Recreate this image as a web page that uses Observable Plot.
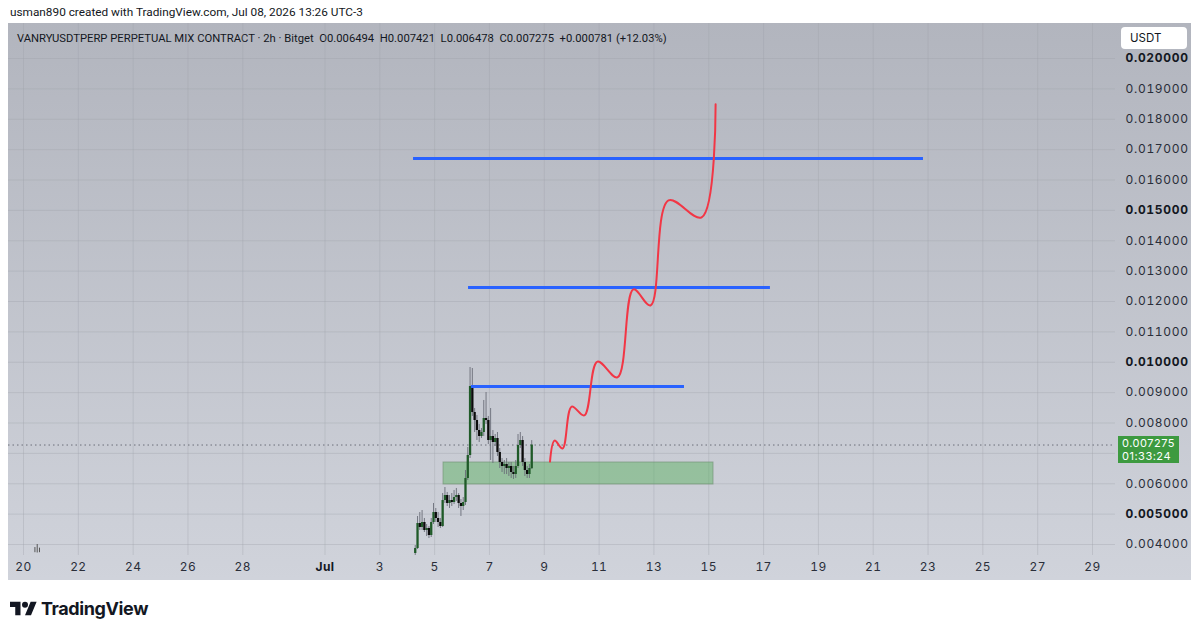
<!DOCTYPE html>
<html><head><meta charset="utf-8">
<script src="https://cdn.jsdelivr.net/npm/d3@7"></script>
<script src="https://cdn.jsdelivr.net/npm/@observablehq/plot@0.6"></script>
<style>
body{margin:0;background:#fff;width:1200px;height:633px;overflow:hidden;position:relative;font-family:Roboto,Inter,"Noto Sans",sans-serif;color:#131722;}
#top{position:absolute;left:10px;top:4px;font-size:11.8px;line-height:16px;white-space:nowrap;}
#panel{position:absolute;left:8px;top:23px;width:1183px;height:557px;background:linear-gradient(#b2b5be,#d0d3db);}
#legend{position:absolute;left:9px;top:8px;font-size:11.25px;line-height:16px;white-space:nowrap;color:#131722;}
#usdt{position:absolute;left:1113px;top:4px;width:66px;height:22px;background:#fff;border-radius:4px;font-size:11.5px;line-height:22px;box-sizing:border-box;padding-left:9px;color:#131722;font-family:Inter,sans-serif;}
#last{position:absolute;left:1110px;width:61px;height:27px;background:#3d9a40;color:#fff;font-size:11px;line-height:12.5px;box-sizing:border-box;padding:1px 0 0 4px;font-family:Inter,sans-serif;letter-spacing:0.5px;}
#logo{position:absolute;left:10px;top:598px;display:flex;align-items:center;gap:4px;}
#logo span{font-size:18px;font-weight:700;letter-spacing:-0.4px;color:#131722;font-family:Inter,sans-serif;}
g[aria-label="y-axis tick label"] text{letter-spacing:0.7px;}
g[aria-label="x-axis tick label"] text{letter-spacing:0.4px;}
</style></head>
<body>
<div id="top">usman890 created with TradingView.com, Jul 08, 2026 13:26 UTC-3</div>
<div id="panel">
  <div id="legend">VANRYUSDTPERP PERPETUAL MIX CONTRACT · 2h · Bitget&nbsp; O0.006494&nbsp; H0.007421&nbsp; L0.006478&nbsp; C0.007275&nbsp; +0.000781 (+12.03%)</div>
  <div id="usdt">USDT</div>
</div>
<div id="logo"><svg width="27" height="17" viewBox="0 3 36 20"><path fill="#131722" d="M14 22H7V11H0V4h14v18zM28 22h-8l7.5-18h8L28 22z"/><circle fill="#131722" cx="20" cy="8" r="4"/></svg><span>TradingView</span></div>
<script>
// ---- axis ticks ----
const priceTicks = [0.004,0.005,0.006,0.007,0.008,0.009,0.010,0.011,0.012,0.013,0.014,0.015,0.016,0.017,0.018,0.019,0.020];
const boldPrices = [0.005,0.010,0.015,0.020];
const hiddenPrices = [0.007]; // covered by the last-price label
const dateTicks = ["2026-06-20","2026-06-22","2026-06-24","2026-06-26","2026-06-28","2026-07-01","2026-07-03","2026-07-05","2026-07-07","2026-07-09","2026-07-11","2026-07-13","2026-07-15","2026-07-17","2026-07-19","2026-07-21","2026-07-23","2026-07-25","2026-07-27","2026-07-29"];
const boldDates = ["2026-07-01"];
const boldDateLabels = ["Jul"];

// ---- 2h candles (from Jul 4 07:00) ----
const candleStart = "2026-07-04T07:00Z";
const candleOpen  = [0.003704,0.003868,0.004691,0.004560,0.004724,0.004461,0.004527,0.004296,0.004724,0.005053,0.004856,0.004724,0.004592,0.005448,0.005613,0.005350,0.005448,0.005383,0.005547,0.005613,0.005350,0.005251,0.005383,0.006173,0.006930,0.009202,0.008346,0.008082,0.007753,0.007555,0.007687,0.008148,0.008082,0.007424,0.007555,0.007358,0.007490,0.007029,0.006700,0.006568,0.006634,0.006502,0.006568,0.006370,0.006304,0.006568,0.007259,0.007424,0.006700,0.006436,0.006304,0.006494];
const candleHigh  = [0.003967,0.004922,0.005053,0.005119,0.004856,0.004658,0.004592,0.004856,0.005350,0.005185,0.005053,0.004856,0.005679,0.005876,0.005712,0.005613,0.005679,0.005778,0.005844,0.005679,0.005481,0.005547,0.006436,0.007193,0.009827,0.009794,0.008477,0.008247,0.007951,0.007819,0.008741,0.009004,0.008214,0.008477,0.007753,0.007621,0.007687,0.007160,0.006831,0.006765,0.006831,0.006700,0.006700,0.006568,0.006765,0.007621,0.007687,0.007555,0.006831,0.006568,0.006634,0.007421];
const candleLow   = [0.003638,0.003835,0.004461,0.004461,0.004395,0.004263,0.004197,0.004230,0.004658,0.004724,0.004560,0.004527,0.004560,0.005350,0.005251,0.005185,0.005251,0.005317,0.005416,0.005185,0.004922,0.005119,0.005284,0.006107,0.006831,0.008214,0.007687,0.007424,0.007358,0.007490,0.007555,0.007951,0.007292,0.006765,0.006667,0.007226,0.006897,0.006502,0.006370,0.006304,0.006304,0.006239,0.006173,0.006140,0.006173,0.006502,0.007160,0.006568,0.006239,0.006173,0.006173,0.006478];
const candleClose = [0.003868,0.004691,0.004560,0.004724,0.004461,0.004527,0.004296,0.004724,0.005053,0.004856,0.004724,0.004592,0.005448,0.005613,0.005350,0.005448,0.005383,0.005547,0.005613,0.005350,0.005251,0.005383,0.006173,0.006930,0.009202,0.008346,0.008082,0.007753,0.007555,0.007687,0.008148,0.008082,0.007424,0.007555,0.007358,0.007490,0.007029,0.006700,0.006568,0.006634,0.006502,0.006568,0.006370,0.006304,0.006568,0.007259,0.007424,0.006700,0.006436,0.006304,0.006502,0.007275];

// tiny old candles near Jun 20
const oldTimes = ["2026-06-20T10:00Z","2026-06-20T12:00Z","2026-06-20T14:00Z"];
const oldHigh = [0.00390,0.00400,0.00388];
const oldLow  = [0.00373,0.00372,0.00373];

// ---- drawings ----
const levelPrice = [0.01671,0.01246,0.00920];
const levelStart = ["2026-07-04T05:30Z","2026-07-06T05:40Z","2026-07-06T08:15Z"];
const levelEnd   = ["2026-07-22T20:00Z","2026-07-17T06:00Z","2026-07-14T02:45Z"];

const zoneStart = "2026-07-05T07:45Z", zoneEnd = "2026-07-15T04:10Z";
const zoneTop = 0.00670, zoneBottom = 0.005975;

const pathTimes = ["2026-07-09T05:00Z","2026-07-09T09:00Z","2026-07-09T16:00Z","2026-07-10T00:00Z","2026-07-10T11:00Z","2026-07-10T22:30Z","2026-07-11T16:00Z","2026-07-12T06:00Z","2026-07-12T21:00Z","2026-07-13T12:45Z","2026-07-14T17:45Z","2026-07-15T06:00Z"];
const pathPrices = [0.00673,0.00742,0.00716,0.00854,0.00825,0.01002,0.00950,0.01240,0.01187,0.01533,0.01477,0.01849];

const lastClose = 0.007275;
const lastLabel = ["0.007275","01:33:24"];

// ---- build tables ----
const t0 = new Date(candleStart).getTime();
const candles = candleOpen.map((o,i)=>({t:new Date(t0 + i*7200000), o, h:candleHigh[i], l:candleLow[i], c:candleClose[i]}));
const old = oldTimes.map((t,i)=>({t:new Date(t), h:oldHigh[i], l:oldLow[i]}));
const levels = levelPrice.map((p,i)=>({p, s:new Date(levelStart[i]), e:new Date(levelEnd[i])}));
const path = pathTimes.map((t,i)=>({t:new Date(t), p:pathPrices[i]}));
const dates = dateTicks.map(d=>new Date(d));
const bDates = boldDates.map(d=>new Date(d));
const normalPrices = priceTicks.filter(v=>!boldPrices.includes(v) && !hiddenPrices.includes(v));

const chart = Plot.plot({
  width: 1183, height: 557,
  marginTop: 0, marginLeft: 0, marginRight: 76, marginBottom: 25,
  style: {background:"transparent", fontFamily:"Inter, 'Noto Sans', sans-serif", fontSize:"12px", color:"#2a2e39", overflow:"visible"},
  x: {type:"utc", domain:[new Date("2026-06-20"), new Date("2026-07-29")], range:[15,1084], axis:null},
  y: {domain:[0.004,0.020], range:[521,35], axis:null},
  marks: [
    Plot.gridX(dates, {stroke:"#9ea1aa", strokeOpacity:0.35, strokeWidth:1}),
    Plot.gridY(priceTicks, {stroke:"#9ea1aa", strokeOpacity:0.35, strokeWidth:1}),
    Plot.axisY(normalPrices, {anchor:"right", tickSize:0, tickPadding:10, tickFormat:d=>d.toFixed(6), fill:"#2a2e39"}),
    Plot.axisY(boldPrices, {anchor:"right", tickSize:0, tickPadding:10, tickFormat:d=>d.toFixed(6), fill:"#131722", fontWeight:"bold"}),
    Plot.axisX(dates.filter(d=>!bDates.some(b=>+b===+d)), {anchor:"bottom", tickSize:0, tickPadding:7, tickFormat:d=>String(d.getUTCDate()), fill:"#2a2e39"}),
    Plot.axisX(bDates, {anchor:"bottom", tickSize:0, tickPadding:7, tickFormat:(d,i)=>boldDateLabels[i], fill:"#131722", fontWeight:"bold"}),
    Plot.ruleY([lastClose], {stroke:"#6b6e78", strokeDasharray:"1.5,3", strokeWidth:1}),
    Plot.rect([{}], {x1:()=>new Date(zoneStart), x2:()=>new Date(zoneEnd), y1:()=>zoneBottom, y2:()=>zoneTop, fill:"#4caf50", fillOpacity:0.42, stroke:"#6f8f72", strokeOpacity:0.6}),
    Plot.ruleX(old, {x:"t", y1:"l", y2:"h", stroke:"#555", strokeWidth:1}),
    Plot.ruleX(candles, {x:"t", y1:"l", y2:"h", stroke:"#6a6d78", strokeWidth:0.9}),
    Plot.ruleX(candles, {x:"t", y1:"o", y2:"c", stroke:d=>d.c>=d.o?"#1f5a28":"#0b0b0b", strokeWidth:2.3}),
    Plot.ruleY(levels, {y:"p", x1:"s", x2:"e", stroke:"#2962ff", strokeWidth:3}),
    Plot.line(path, {x:"t", y:"p", stroke:"#f23645", strokeWidth:2, curve:"catmull-rom"})
  ]
});
document.getElementById("panel").appendChild(chart);
chart.style.position="absolute"; chart.style.left="0"; chart.style.top="0";

const yPix = chart.scale("y").apply(lastClose);
const box = document.createElement("div");
box.id = "last";
box.style.top = (yPix - 8.5) + "px";
box.innerHTML = lastLabel.join("<br>");
document.getElementById("panel").appendChild(box);
</script>
</body></html>
